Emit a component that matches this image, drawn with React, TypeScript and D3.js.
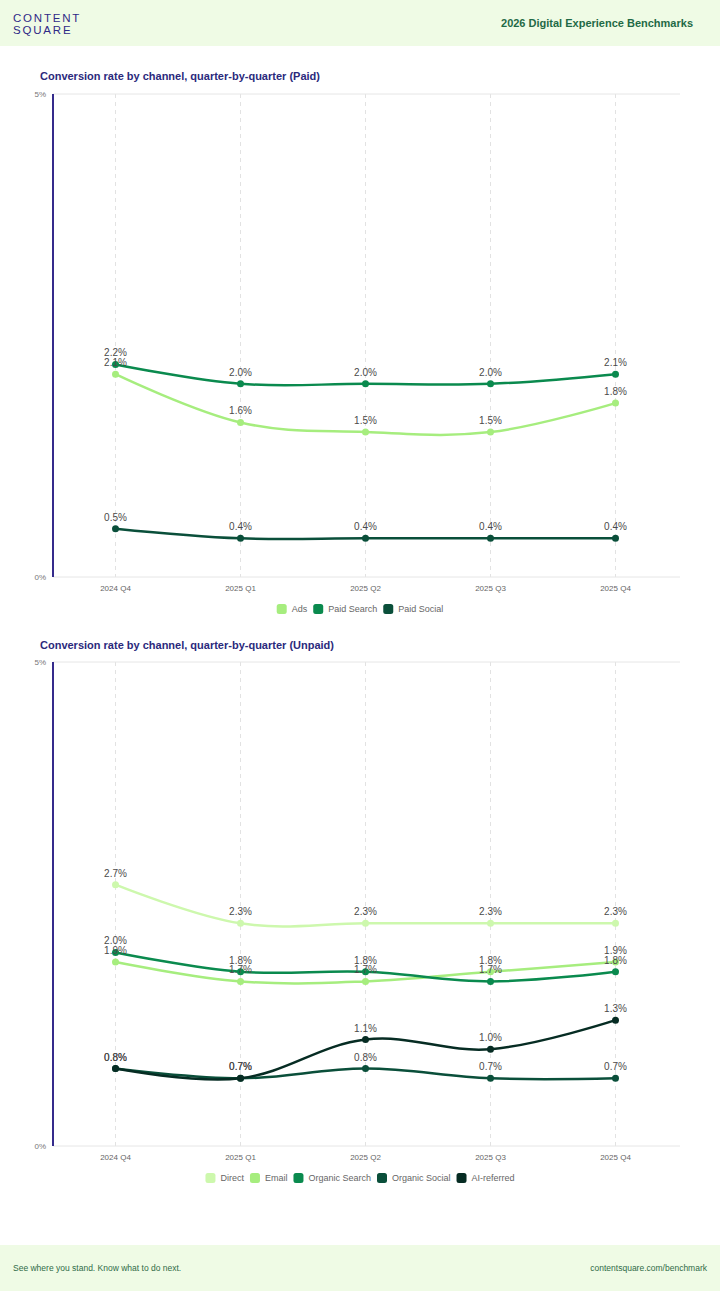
import React from 'react';
import * as d3 from 'd3';

// quarters and series values (percent)
const quarters = ['2024 Q4', '2025 Q1', '2025 Q2', '2025 Q3', '2025 Q4'];
const yTicks = [0, 5];

const paidNames = ['Ads', 'Paid Search', 'Paid Social'];
const adsValues = [2.1, 1.6, 1.5, 1.5, 1.8];
const paidSearchValues = [2.2, 2.0, 2.0, 2.0, 2.1];
const paidSocialValues = [0.5, 0.4, 0.4, 0.4, 0.4];

const unpaidNames = ['Direct', 'Email', 'Organic Search', 'Organic Social', 'AI-referred'];
const directValues = [2.7, 2.3, 2.3, 2.3, 2.3];
const emailValues = [1.9, 1.7, 1.7, 1.8, 1.9];
const organicSearchValues = [2.0, 1.8, 1.8, 1.7, 1.8];
const organicSocialValues = [0.8, 0.7, 0.8, 0.7, 0.7];
const aiReferredValues = [0.8, 0.7, 1.1, 1.0, 1.3];

const paidColors = ['#a6ed7e', '#0a8a4e', '#0a4f3a'];
const unpaidColors = ['#cdf8ad', '#a6ed7e', '#0a8a4e', '#0a4f3a', '#062c23'];

const FONT = '"Liberation Sans", Arial, sans-serif';

type Series = { name: string; values: number[]; color: string };

let ctx: CanvasRenderingContext2D | null = null;
function measure(text: string, size: number) {
    if (!ctx) ctx = document.createElement('canvas').getContext('2d');
    if (!ctx) return text.length * size * 0.55;
    ctx.font = `${size}px ${FONT}`;
    return ctx.measureText(text).width;
}

function LineChart(props: { titleY: number; plotTop: number; plotBottom: number; title: string; series: Series[] }) {
    const { titleY, plotTop, plotBottom, title, series } = props;

    const x = d3.scalePoint<string>().domain(quarters).range([53, 678]).padding(0.5);
    const y = d3.scaleLinear().domain([0, 5]).range([plotBottom, plotTop]);

    const line = d3
        .line<number>()
        .x((d, i) => x(quarters[i]) as number)
        .y(d => y(d))
        .curve(d3.curveCardinal.tension(-0.1));

    // legend layout
    const widths = series.map(s => 10 + 5 + measure(s.name, 9) + 6);
    const total = d3.sum(widths) - 6;
    let cursor = 360 - total / 2;
    const legendY = plotBottom + 32;

    return (
        <g>
            <text x={40} y={titleY} fontFamily={FONT} fontSize={11} fontWeight="bold" fill="#2b2a7c">
                {title}
            </text>
            {quarters.map(q => (
                <line
                    key={q}
                    x1={x(q)}
                    x2={x(q)}
                    y1={plotTop}
                    y2={plotBottom}
                    stroke="#e2e2e2"
                    strokeDasharray="4 4"
                />
            ))}
            {yTicks.map(t => (
                <g key={t}>
                    <line x1={53} x2={680} y1={y(t)} y2={y(t)} stroke="#e6e6e6" />
                    <text x={46} y={y(t)} dy="0.32em" textAnchor="end" fontFamily={FONT} fontSize={8} fill="#777">
                        {t}%
                    </text>
                </g>
            ))}
            <line x1={53} x2={53} y1={plotTop} y2={plotBottom} stroke="#352b8c" strokeWidth={2} />
            {quarters.map(q => (
                <text key={q} x={x(q)} y={plotBottom + 14} textAnchor="middle" fontFamily={FONT} fontSize={8} fill="#666">
                    {q}
                </text>
            ))}
            {series.map(s => (
                <g key={s.name}>
                    <path d={line(s.values) || ''} fill="none" stroke={s.color} strokeWidth={2.5} />
                    {s.values.map((v, i) => (
                        <circle key={i} cx={x(quarters[i])} cy={y(v)} r={3.5} fill={s.color} />
                    ))}
                </g>
            ))}
            {series.map(s =>
                s.values.map((v, i) => (
                    <text
                        key={s.name + i}
                        x={x(quarters[i])}
                        y={y(v) - 8}
                        textAnchor="middle"
                        fontFamily={FONT}
                        fontSize={10}
                        fill="#4a4a4a"
                    >
                        {v.toFixed(1)}%
                    </text>
                ))
            )}
            {series.map((s, i) => {
                const x0 = cursor;
                cursor += widths[i];
                return (
                    <g key={s.name} transform={`translate(${x0}, ${legendY})`}>
                        <rect x={0} y={-5} width={10} height={10} rx={2.5} fill={s.color} />
                        <text x={15} y={0} dy="0.34em" fontFamily={FONT} fontSize={9} fill="#666">
                            {s.name}
                        </text>
                    </g>
                );
            })}
        </g>
    );
}

export default function App() {
    const paid: Series[] = [
        { name: paidNames[0], values: adsValues, color: paidColors[0] },
        { name: paidNames[1], values: paidSearchValues, color: paidColors[1] },
        { name: paidNames[2], values: paidSocialValues, color: paidColors[2] },
    ];
    const unpaid: Series[] = [
        { name: unpaidNames[0], values: directValues, color: unpaidColors[0] },
        { name: unpaidNames[1], values: emailValues, color: unpaidColors[1] },
        { name: unpaidNames[2], values: organicSearchValues, color: unpaidColors[2] },
        { name: unpaidNames[3], values: organicSocialValues, color: unpaidColors[3] },
        { name: unpaidNames[4], values: aiReferredValues, color: unpaidColors[4] },
    ];

    return (
        <svg width={720} height={1291} style={{ position: 'absolute', left: 0, top: 0, background: '#fff' }}>
            <rect x={0} y={0} width={720} height={46} fill="#effbe5" />
            <text x={13} y={22} fontFamily={FONT} fontSize={11.5} letterSpacing={1.8} fill="#2f2a87">CONTENT</text>
            <text x={13} y={33.5} fontFamily={FONT} fontSize={11.5} letterSpacing={1.8} fill="#2f2a87">SQUARE</text>
            <text x={693} y={27} textAnchor="end" fontFamily={FONT} fontSize={11} fontWeight="bold" fill="#1f6a46">
                2026 Digital Experience Benchmarks
            </text>

            <LineChart
                titleY={80}
                plotTop={94}
                plotBottom={577}
                title="Conversion rate by channel, quarter-by-quarter (Paid)"
                series={paid}
            />
            <LineChart
                titleY={649}
                plotTop={662}
                plotBottom={1146}
                title="Conversion rate by channel, quarter-by-quarter (Unpaid)"
                series={unpaid}
            />

            <rect x={0} y={1245} width={720} height={46} fill="#effbe5" />
            <text x={13} y={1271} fontFamily={FONT} fontSize={8.5} fill="#2f6b47">
                See where you stand. Know what to do next.
            </text>
            <text x={707} y={1271} textAnchor="end" fontFamily={FONT} fontSize={8.5} fill="#2f6b47">
                contentsquare.com/benchmark
            </text>
        </svg>
    );
}
